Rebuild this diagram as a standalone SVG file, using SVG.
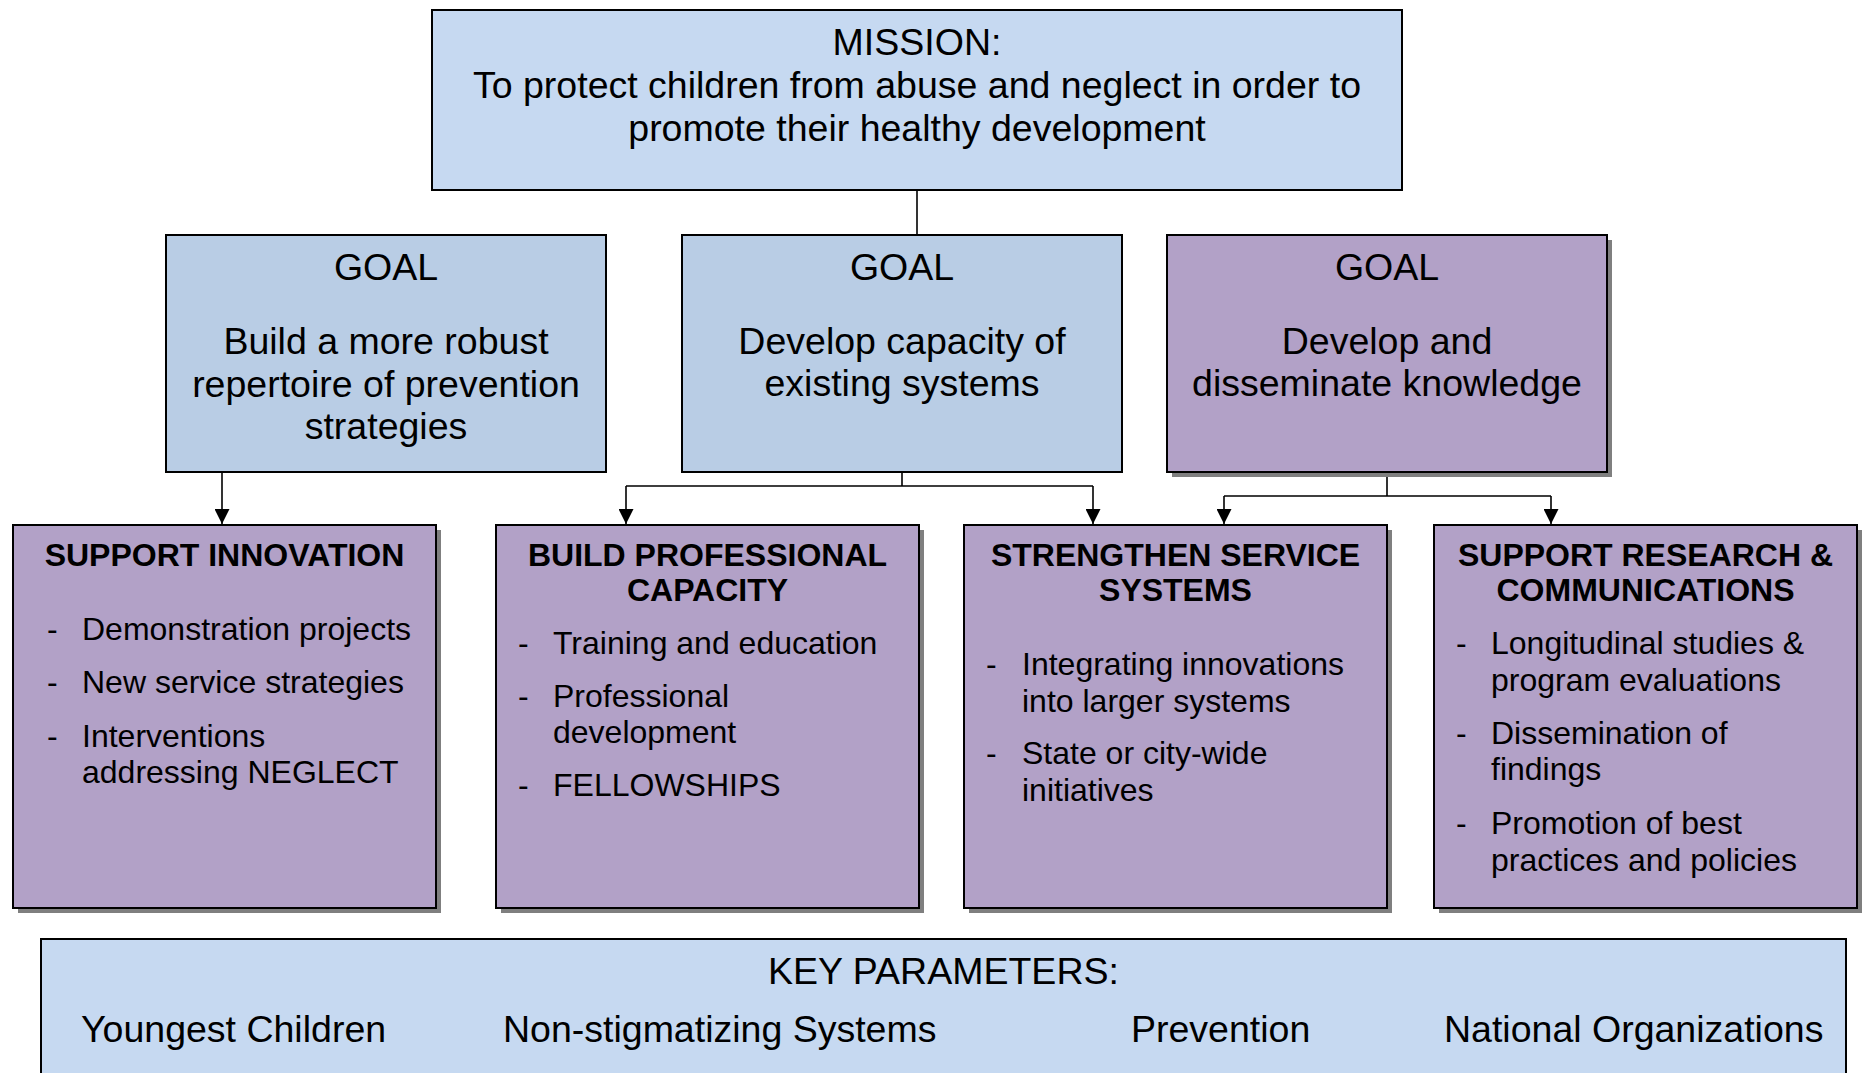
<svg xmlns="http://www.w3.org/2000/svg" width="1862" height="1073" viewBox="0 0 1862 1073">
  <defs>
    <marker id="arrow" markerUnits="userSpaceOnUse" markerWidth="16" markerHeight="15" refX="15" refY="7.5" orient="auto">
      <path d="M0,0 L15,7.5 L0,15 Z" fill="#000"/>
    </marker>
    <style>
      text { font-family: "Liberation Sans", Arial, sans-serif; fill: #000; }
      .box { stroke: #000; stroke-width: 2; }
      .light { fill: #c6d9f1; }
      .blue { fill: #b9cde5; }
      .purple { fill: #b2a1c7; }
      .shadow { fill: #7f7f7f; }
      .big { font-size: 37.5px; }
      .mid { font-size: 32px; }
      .title { font-size: 32px; font-weight: bold; }
      .c { text-anchor: middle; }
      .conn { fill: none; stroke: #000; stroke-width: 1.6; }
    </style>
  </defs>
  <rect width="1862" height="1073" fill="#fff"/>

  <!-- connectors -->
  <g id="connectors">
    <path class="conn" d="M917,190 V234"/>
    <path class="conn" d="M222,472 V524" marker-end="url(#arrow)"/>
    <path class="conn" d="M902,472 V486 M626,486 H1093"/>
    <path class="conn" d="M626,486 V524" marker-end="url(#arrow)"/>
    <path class="conn" d="M1093,486 V524" marker-end="url(#arrow)"/>
    <path class="conn" d="M1387,472 V496 M1224,496 H1551"/>
    <path class="conn" d="M1224,496 V524" marker-end="url(#arrow)"/>
    <path class="conn" d="M1551,496 V524" marker-end="url(#arrow)"/>
  </g>

  <!-- mission -->
  <g id="mission">
    <rect class="box light" x="432" y="10" width="970" height="180"/>
    <text class="big c" x="917" y="55">MISSION:</text>
    <text class="big c" x="917" y="98">To protect children from abuse and neglect in order to</text>
    <text class="big c" x="917" y="141">promote their healthy development</text>
  </g>

  <!-- goals -->
  <g id="goal-prevention">
    <rect class="box blue" x="166" y="235" width="440" height="237"/>
    <text class="big c" x="386" y="280">GOAL</text>
    <text class="big c" x="386" y="354">Build a more robust</text>
    <text class="big c" x="386" y="397">repertoire of prevention</text>
    <text class="big c" x="386" y="439">strategies</text>
  </g>
  <g id="goal-capacity">
    <rect class="box blue" x="682" y="235" width="440" height="237"/>
    <text class="big c" x="902" y="280">GOAL</text>
    <text class="big c" x="902" y="354">Develop capacity of</text>
    <text class="big c" x="902" y="396">existing systems</text>
  </g>
  <g id="goal-knowledge">
    <rect class="shadow" x="1172" y="240" width="440" height="237"/>
    <rect class="box purple" x="1167" y="235" width="440" height="237"/>
    <text class="big c" x="1387" y="280">GOAL</text>
    <text class="big c" x="1387" y="354">Develop and</text>
    <text class="big c" x="1387" y="396">disseminate knowledge</text>
  </g>

  <!-- strategies -->
  <g id="support-innovation">
    <rect class="shadow" x="18" y="530" width="423" height="383"/>
    <rect class="box purple" x="13" y="525" width="423" height="383"/>
    <text class="title c" x="224.5" y="566">SUPPORT INNOVATION</text>
    <text class="mid" x="47" y="640">-</text>
    <text class="mid" x="82" y="640">Demonstration projects</text>
    <text class="mid" x="47" y="693">-</text>
    <text class="mid" x="82" y="693">New service strategies</text>
    <text class="mid" x="47" y="747">-</text>
    <text class="mid" x="82" y="747">Interventions</text>
    <text class="mid" x="82" y="783">addressing NEGLECT</text>
  </g>
  <g id="build-capacity">
    <rect class="shadow" x="501" y="530" width="423" height="383"/>
    <rect class="box purple" x="496" y="525" width="423" height="383"/>
    <text class="title c" x="707.5" y="566">BUILD PROFESSIONAL</text>
    <text class="title c" x="707.5" y="601">CAPACITY</text>
    <text class="mid" x="518" y="654">-</text>
    <text class="mid" x="553" y="654">Training and education</text>
    <text class="mid" x="518" y="707">-</text>
    <text class="mid" x="553" y="707">Professional</text>
    <text class="mid" x="553" y="743">development</text>
    <text class="mid" x="518" y="796">-</text>
    <text class="mid" x="553" y="796">FELLOWSHIPS</text>
  </g>
  <g id="strengthen-systems">
    <rect class="shadow" x="969" y="530" width="423" height="383"/>
    <rect class="box purple" x="964" y="525" width="423" height="383"/>
    <text class="title c" x="1175.5" y="566">STRENGTHEN SERVICE</text>
    <text class="title c" x="1175.5" y="601">SYSTEMS</text>
    <text class="mid" x="986" y="675">-</text>
    <text class="mid" x="1022" y="675">Integrating innovations</text>
    <text class="mid" x="1022" y="712">into larger systems</text>
    <text class="mid" x="986" y="764">-</text>
    <text class="mid" x="1022" y="764">State or city-wide</text>
    <text class="mid" x="1022" y="801">initiatives</text>
  </g>
  <g id="research-communications">
    <rect class="shadow" x="1439" y="530" width="423" height="383"/>
    <rect class="box purple" x="1434" y="525" width="423" height="383"/>
    <text class="title c" x="1645.5" y="566">SUPPORT RESEARCH &amp;</text>
    <text class="title c" x="1645.5" y="601">COMMUNICATIONS</text>
    <text class="mid" x="1456" y="654">-</text>
    <text class="mid" x="1491" y="654">Longitudinal studies &amp;</text>
    <text class="mid" x="1491" y="691">program evaluations</text>
    <text class="mid" x="1456" y="744">-</text>
    <text class="mid" x="1491" y="744">Dissemination of</text>
    <text class="mid" x="1491" y="780">findings</text>
    <text class="mid" x="1456" y="834">-</text>
    <text class="mid" x="1491" y="834">Promotion of best</text>
    <text class="mid" x="1491" y="871">practices and policies</text>
  </g>

  <!-- key parameters -->
  <g id="key-parameters">
    <rect class="box light" x="41" y="939" width="1805" height="160"/>
    <text class="big c" x="943.5" y="984">KEY PARAMETERS:</text>
    <text class="big" x="81" y="1042">Youngest Children</text>
    <text class="big" x="503" y="1042">Non-stigmatizing Systems</text>
    <text class="big" x="1131" y="1042">Prevention</text>
    <text class="big" x="1444" y="1042">National Organizations</text>
  </g>
</svg>
